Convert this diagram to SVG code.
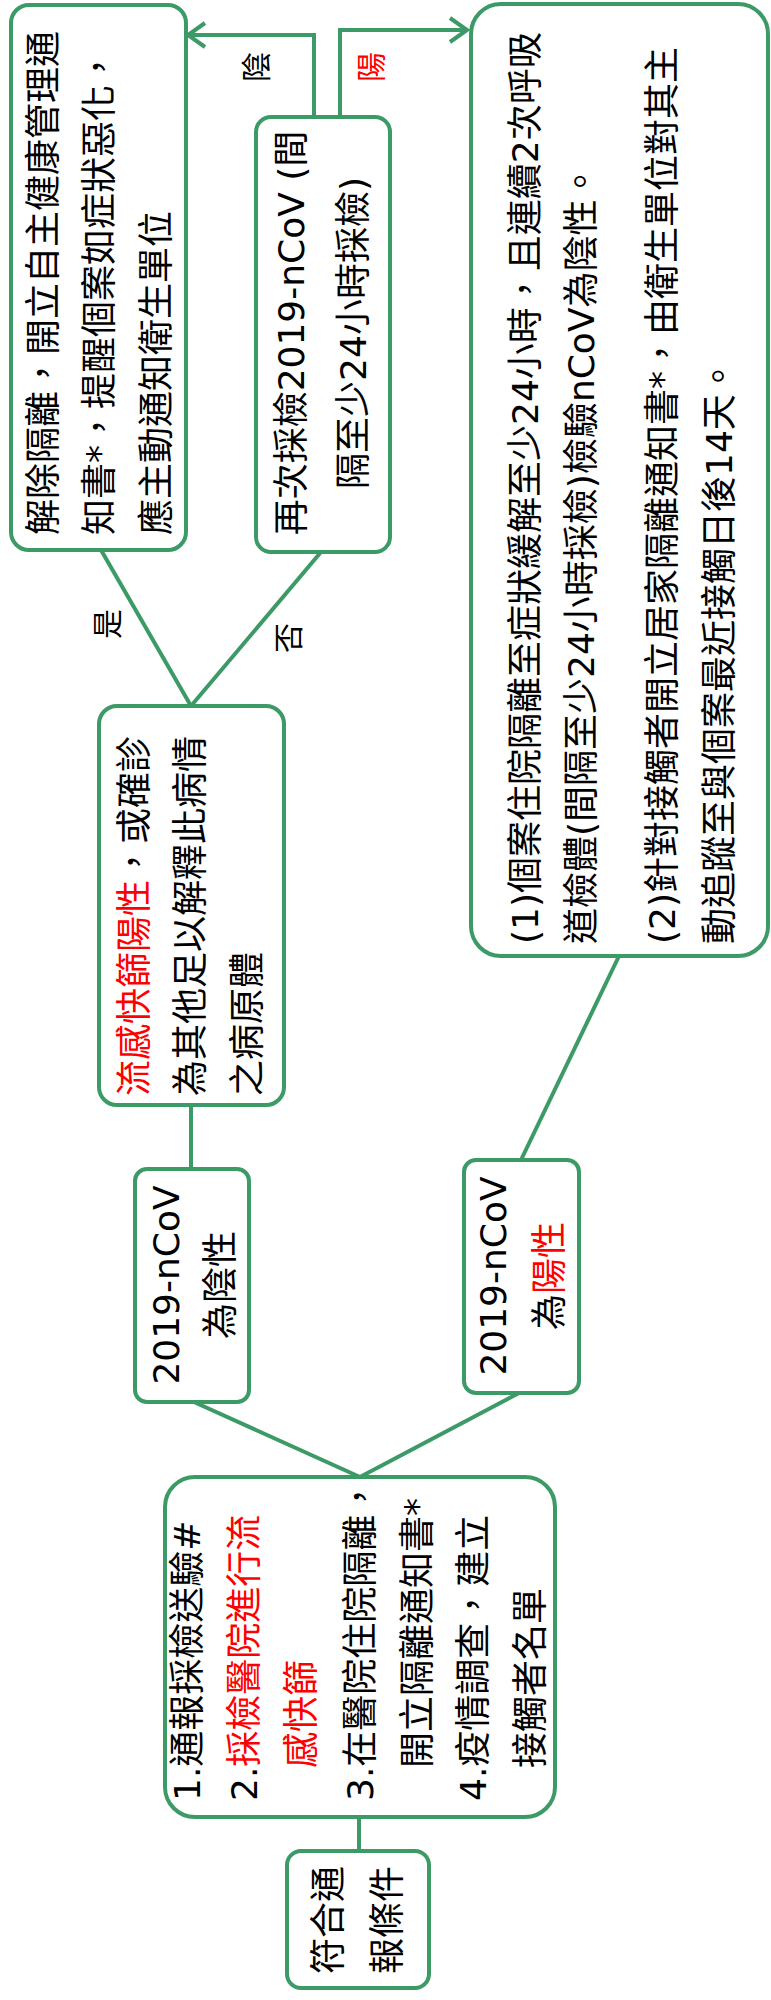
<svg xmlns="http://www.w3.org/2000/svg" width="771" height="2000" viewBox="0 0 771 2000">
<style>
.box{fill:#fff;stroke:#3C9A67;stroke-width:4}
.ln{fill:none;stroke:#3C9A67;stroke-width:4;stroke-linejoin:miter}
text{font-family:"DejaVu Sans","Noto Sans CJK TC",sans-serif;font-size:36px;fill:#000}
.m{text-anchor:middle}
.lb{font-size:30px}
.r{fill:#FF0000}
</style>
<rect width="771" height="2000" fill="#fff"/>
<g id="connectors">
<path class="ln" d="M314,117 V35 H188"/>
<path class="ln" d="M205,23 L188,35 L205,47"/>
<path class="ln" d="M340,117 V30 H467"/>
<path class="ln" d="M450,18 L467,30 L450,42"/>
<path class="ln" d="M191,706 L101,550"/>
<path class="ln" d="M191,706 L321,552"/>
<path class="ln" d="M191,1105 V1169"/>
<path class="ln" d="M619,956 L521,1160"/>
<path class="ln" d="M194,1402 L360,1477"/>
<path class="ln" d="M519,1393 L360,1477"/>
<path class="ln" d="M359,1817 V1851"/>
<text class="lb m" transform="translate(267,67) rotate(-90)">陰</text>
<text class="lb m r" transform="translate(382,67) rotate(-90)">陽</text>
<text class="lb m" transform="translate(118,624) rotate(-90)">是</text>
<text class="lb m" transform="translate(299,638) rotate(-90)">否</text>
</g>
<g id="node-release">
<rect class="box" x="11" y="5" width="175" height="545" rx="18"/>
<text transform="translate(56,535) rotate(-90)">解除隔離，開立自主健康管理通</text>
<text transform="translate(112,535) rotate(-90)">知書*，提醒個案如症狀惡化，</text>
<text transform="translate(169,535) rotate(-90)">應主動通知衛生單位</text>
</g>
<g id="node-retest">
<rect class="box" x="256" y="117" width="134" height="435" rx="15"/>
<text class="m" transform="translate(304,333) rotate(-90)">再次採檢2019-nCoV (間</text>
<text class="m" transform="translate(366,333) rotate(-90)">隔至少24小時採檢)</text>
</g>
<g id="node-positive-action">
<rect class="box" x="471" y="4" width="297" height="952" rx="30"/>
<text transform="translate(538,944) rotate(-90)">(1)個案住院隔離至症狀緩解至少24小時，且連續2次呼吸</text>
<text transform="translate(594,944) rotate(-90)">道檢體(間隔至少24小時採檢)檢驗nCoV為陰性。</text>
<text transform="translate(675,944) rotate(-90)">(2)針對接觸者開立居家隔離通知書*，由衛生單位對其主</text>
<text transform="translate(732,944) rotate(-90)">動追蹤至與個案最近接觸日後14天。</text>
</g>
<g id="node-flu">
<rect class="box" x="99" y="706" width="185" height="399" rx="18"/>
<text transform="translate(147,1096) rotate(-90)"><tspan class="r">流感快篩陽性</tspan>，或確診</text>
<text transform="translate(203,1096) rotate(-90)">為其他足以解釋此病情</text>
<text transform="translate(260,1096) rotate(-90)">之病原體</text>
</g>
<g id="node-negative">
<rect class="box" x="135" y="1169" width="114" height="233" rx="12"/>
<text class="m" transform="translate(179,1285) rotate(-90)">2019-nCoV</text>
<text class="m" transform="translate(233,1285) rotate(-90)">為陰性</text>
</g>
<g id="node-positive">
<rect class="box" x="464" y="1160" width="115" height="233" rx="12"/>
<text class="m" transform="translate(506,1276) rotate(-90)">2019-nCoV</text>
<text class="m" transform="translate(562,1276) rotate(-90)">為<tspan class="r">陽性</tspan></text>
</g>
<g id="node-steps">
<rect class="box" x="165" y="1477" width="390" height="340" rx="30"/>
<text transform="translate(200,1801) rotate(-90)">1.通報採檢送驗#</text>
<text transform="translate(257,1801) rotate(-90)">2.<tspan class="r">採檢醫院進行流</tspan></text>
<text class="r" transform="translate(314,1768) rotate(-90)">感快篩</text>
<text transform="translate(373,1801) rotate(-90)">3.在醫院住院隔離，</text>
<text transform="translate(430,1768) rotate(-90)">開立隔離通知書*</text>
<text transform="translate(486,1801) rotate(-90)">4.疫情調查，建立</text>
<text transform="translate(543,1768) rotate(-90)">接觸者名單</text>
</g>
<g id="node-criteria">
<rect class="box" x="287" y="1851" width="142" height="137" rx="14"/>
<text class="m" transform="translate(341,1920) rotate(-90)">符合通</text>
<text class="m" transform="translate(400,1920) rotate(-90)">報條件</text>
</g>
</svg>
